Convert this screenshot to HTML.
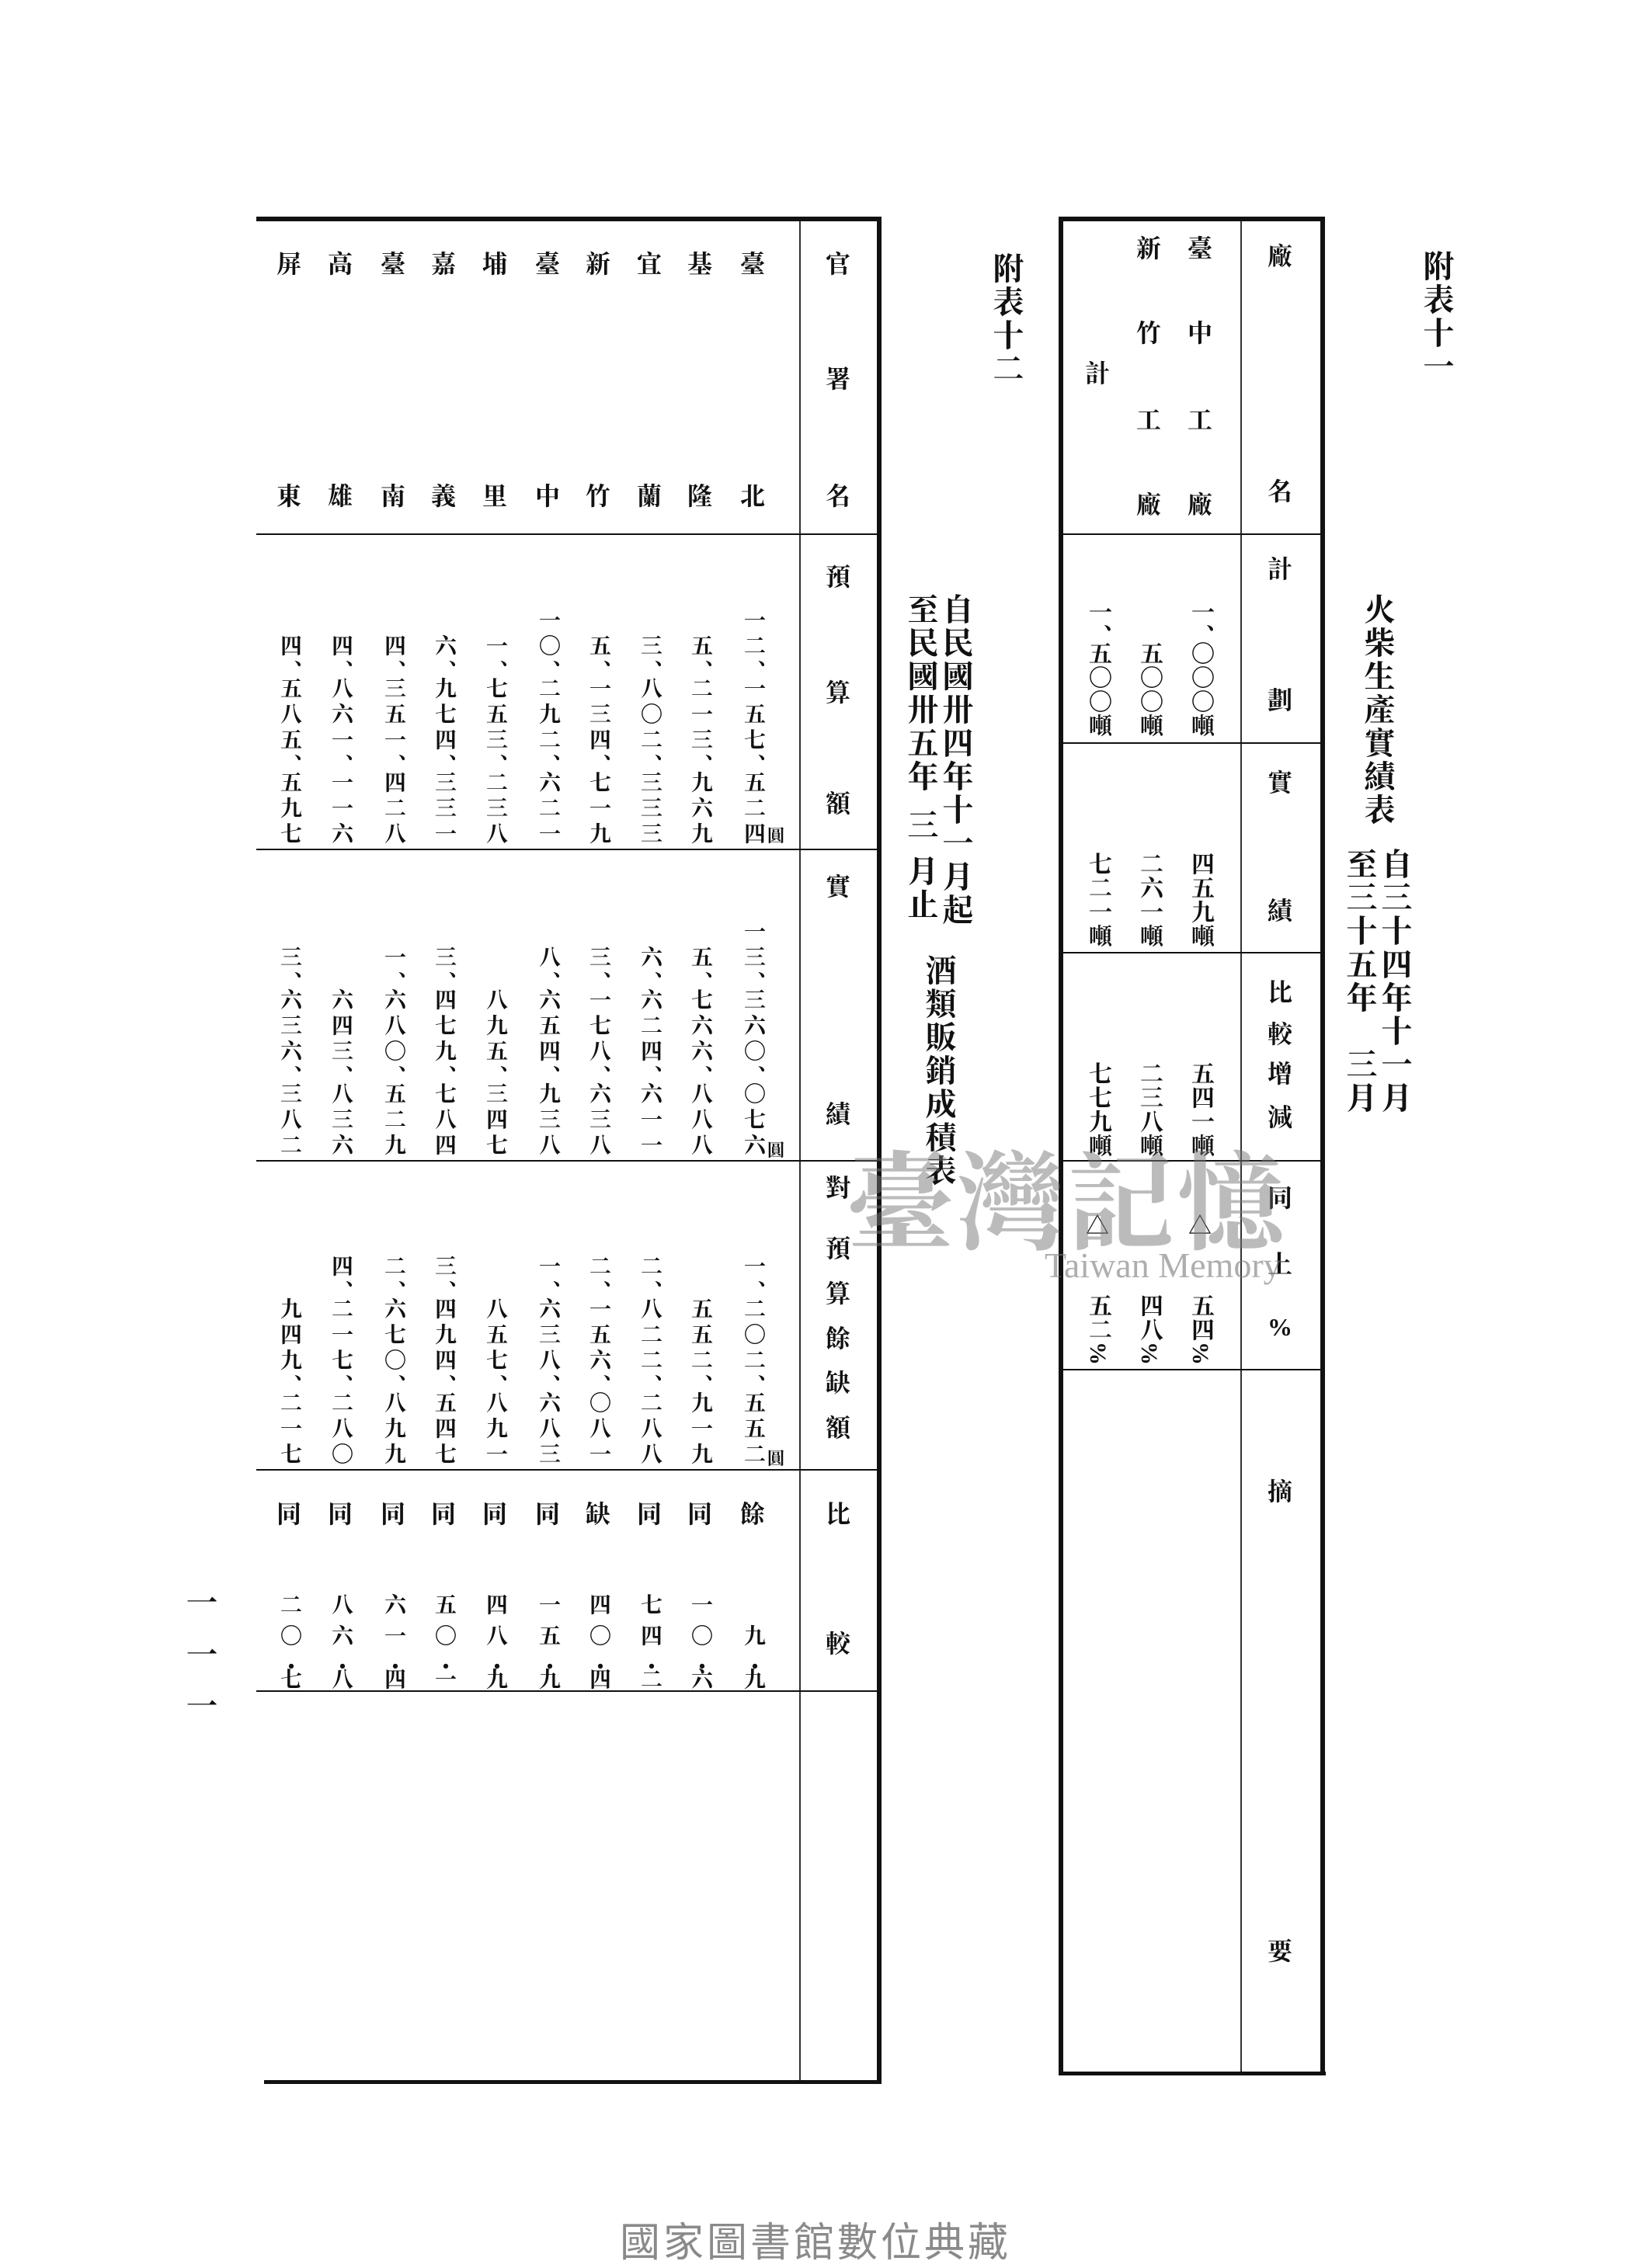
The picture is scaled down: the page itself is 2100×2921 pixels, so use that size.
<!DOCTYPE html>
<html><head><meta charset="utf-8">
<style>
html,body{margin:0;padding:0;background:#fff;}
body{width:2100px;height:2900px;position:relative;overflow:hidden;font-family:"Liberation Serif","Noto Serif CJK SC","Noto Sans CJK TC",serif;color:#111;}
.l{position:absolute;background:#111;}
.v{position:absolute;writing-mode:vertical-rl;font-weight:700;white-space:nowrap;}
.c{position:absolute;font-weight:700;width:40px;text-align:center;line-height:1;}
.n{font-size:28px;letter-spacing:5px;width:34px;line-height:34px;}
.n .k{letter-spacing:-6px;}
.h{font-size:32px;width:40px;text-align:center;}
.r{font-size:30px;letter-spacing:1px;width:34px;line-height:34px;}
.p{font-size:28px;letter-spacing:12px;width:34px;line-height:34px;}
.p .d{letter-spacing:-12px;}
.t{font-size:40px;letter-spacing:3px;width:46px;line-height:46px;}
.yen{position:absolute;font-size:22px;font-weight:700;}
</style></head><body>

<!-- ===== Right table (附表十一) ===== -->
<div class="l" style="left:1363px;top:279px;width:340px;height:6px;"></div>
<div class="l" style="left:1363px;top:279px;width:6px;height:2394px;"></div>
<div class="l" style="left:1700px;top:279px;width:6px;height:2394px;"></div>
<div class="l" style="left:1367px;top:2668px;width:340px;height:5px;"></div>
<div class="l" style="left:1597px;top:285px;width:2px;height:2383px;background:#333;"></div>
<div class="l" style="left:1369px;top:687px;width:331px;height:2px;"></div>
<div class="l" style="left:1369px;top:956px;width:331px;height:2px;"></div>
<div class="l" style="left:1369px;top:1226px;width:331px;height:2px;"></div>
<div class="l" style="left:1369px;top:1494px;width:331px;height:2px;"></div>
<div class="l" style="left:1369px;top:1763px;width:331px;height:2px;"></div>

<!-- header column -->
<div class="c h" style="left:1628px;top:314px;">廠</div>
<div class="c h" style="left:1628px;top:617px;">名</div>
<div class="c h" style="left:1628px;top:717px;">計</div>
<div class="c h" style="left:1628px;top:886px;">劃</div>
<div class="c h" style="left:1628px;top:992px;">實</div>
<div class="c h" style="left:1628px;top:1157px;">績</div>
<div class="c h" style="left:1628px;top:1262px;">比</div>
<div class="c h" style="left:1628px;top:1316px;">較</div>
<div class="c h" style="left:1628px;top:1367px;">增</div>
<div class="c h" style="left:1628px;top:1423px;">減</div>
<div class="c h" style="left:1628px;top:1527px;">同</div>
<div class="c h" style="left:1628px;top:1612px;">上</div>
<div class="c h" style="left:1628px;top:1693px;">%</div>
<div class="c h" style="left:1628px;top:1905px;">摘</div>
<div class="c h" style="left:1628px;top:2497px;">要</div>

<!-- names -->
<div class="c h" style="left:1525px;top:304px;">臺</div>
<div class="c h" style="left:1525px;top:413px;">中</div>
<div class="c h" style="left:1525px;top:525px;">工</div>
<div class="c h" style="left:1525px;top:634px;">廠</div>
<div class="c h" style="left:1459px;top:304px;">新</div>
<div class="c h" style="left:1459px;top:413px;">竹</div>
<div class="c h" style="left:1459px;top:525px;">工</div>
<div class="c h" style="left:1459px;top:634px;">廠</div>
<div class="c h" style="left:1393px;top:465px;">計</div>

<!-- plan -->
<div class="v r" style="left:1528px;bottom:1950px;">一<span style="letter-spacing:-8px">、</span>〇〇〇噸</div>
<div class="v r" style="left:1462px;bottom:1950px;">五〇〇噸</div>
<div class="v r" style="left:1396px;bottom:1950px;">一<span style="letter-spacing:-8px">、</span>五〇〇噸</div>
<!-- actual -->
<div class="v r" style="left:1528px;bottom:1679px;">四五九噸</div>
<div class="v r" style="left:1462px;bottom:1679px;">二六一噸</div>
<div class="v r" style="left:1396px;bottom:1679px;">七二一噸</div>
<!-- diff -->
<div class="v r" style="left:1528px;bottom:1409px;">五四一噸</div>
<div class="v r" style="left:1462px;bottom:1409px;">二三八噸</div>
<div class="v r" style="left:1396px;bottom:1409px;">七七九噸</div>
<!-- % -->
<div class="c" style="left:1525px;top:1565px;font-size:30px;">△</div>
<div class="c" style="left:1393px;top:1565px;font-size:30px;">△</div>
<div class="v r" style="left:1528px;bottom:1141px;">五四%</div>
<div class="v r" style="left:1462px;bottom:1141px;">四八%</div>
<div class="v r" style="left:1396px;bottom:1141px;">五二%</div>

<!-- titles right -->
<div class="v t" style="left:1826px;top:322px;">附表十一</div>
<div class="v t" style="left:1750px;top:764px;">火柴生產實績表</div>
<div class="v t" style="left:1772px;top:1092px;">自三十四年十一月</div>
<div class="v t" style="left:1727px;top:1092px;">至三十五年<span style="display:inline-block;height:43px;"></span>三月</div>

<!-- ===== Left table (附表十二) ===== -->
<div class="l" style="left:330px;top:279px;width:805px;height:6px;"></div>
<div class="l" style="left:1129px;top:279px;width:6px;height:2404px;"></div>
<div class="l" style="left:340px;top:2679px;width:795px;height:5px;"></div>
<div class="l" style="left:1029px;top:285px;width:2px;height:2394px;background:#333;"></div>
<div class="l" style="left:330px;top:687px;width:799px;height:2px;"></div>
<div class="l" style="left:330px;top:1093px;width:799px;height:2px;"></div>
<div class="l" style="left:330px;top:1494px;width:799px;height:2px;"></div>
<div class="l" style="left:330px;top:1892px;width:799px;height:2px;"></div>
<div class="l" style="left:330px;top:2177px;width:799px;height:2px;"></div>

<!-- header -->
<div class="c h" style="left:1059px;top:324px;">官</div>
<div class="c h" style="left:1059px;top:472px;">署</div>
<div class="c h" style="left:1059px;top:623px;">名</div>
<div class="c h" style="left:1059px;top:727px;">預</div>
<div class="c h" style="left:1059px;top:876px;">算</div>
<div class="c h" style="left:1059px;top:1019px;">額</div>
<div class="c h" style="left:1059px;top:1126px;">實</div>
<div class="c h" style="left:1059px;top:1419px;">績</div>
<div class="c h" style="left:1059px;top:1514px;">對</div>
<div class="c h" style="left:1059px;top:1592px;">預</div>
<div class="c h" style="left:1059px;top:1650px;">算</div>
<div class="c h" style="left:1059px;top:1708px;">餘</div>
<div class="c h" style="left:1059px;top:1765px;">缺</div>
<div class="c h" style="left:1059px;top:1823px;">額</div>
<div class="c h" style="left:1059px;top:1934px;">比</div>
<div class="c h" style="left:1059px;top:2101px;">較</div>

<!-- names -->
<div class="c h" style="left:949px;top:324px;">臺</div><div class="c h" style="left:949px;top:623px;">北</div>
<div class="c h" style="left:881px;top:324px;">基</div><div class="c h" style="left:881px;top:623px;">隆</div>
<div class="c h" style="left:816px;top:324px;">宜</div><div class="c h" style="left:816px;top:623px;">蘭</div>
<div class="c h" style="left:750px;top:324px;">新</div><div class="c h" style="left:750px;top:623px;">竹</div>
<div class="c h" style="left:685px;top:324px;">臺</div><div class="c h" style="left:685px;top:623px;">中</div>
<div class="c h" style="left:617px;top:324px;">埔</div><div class="c h" style="left:617px;top:623px;">里</div>
<div class="c h" style="left:551px;top:324px;">嘉</div><div class="c h" style="left:551px;top:623px;">義</div>
<div class="c h" style="left:486px;top:324px;">臺</div><div class="c h" style="left:486px;top:623px;">南</div>
<div class="c h" style="left:418px;top:324px;">高</div><div class="c h" style="left:418px;top:623px;">雄</div>
<div class="c h" style="left:352px;top:324px;">屏</div><div class="c h" style="left:352px;top:623px;">東</div>

<!-- budget -->
<div class="v n" style="left:952px;bottom:1808px;">一二<span class="k">、</span>一五七<span class="k">、</span>五二四</div>
<div class="v n" style="left:884px;bottom:1808px;">五<span class="k">、</span>二一三<span class="k">、</span>九六九</div>
<div class="v n" style="left:819px;bottom:1808px;">三<span class="k">、</span>八〇二<span class="k">、</span>三三三</div>
<div class="v n" style="left:753px;bottom:1808px;">五<span class="k">、</span>一三四<span class="k">、</span>七一九</div>
<div class="v n" style="left:688px;bottom:1808px;">一〇<span class="k">、</span>二九二<span class="k">、</span>六二一</div>
<div class="v n" style="left:620px;bottom:1808px;">一<span class="k">、</span>七五三<span class="k">、</span>二三八</div>
<div class="v n" style="left:554px;bottom:1808px;">六<span class="k">、</span>九七四<span class="k">、</span>三三一</div>
<div class="v n" style="left:489px;bottom:1808px;">四<span class="k">、</span>三五一<span class="k">、</span>四二八</div>
<div class="v n" style="left:421px;bottom:1808px;">四<span class="k">、</span>八六一<span class="k">、</span>一一六</div>
<div class="v n" style="left:355px;bottom:1808px;">四<span class="k">、</span>五八五<span class="k">、</span>五九七</div>
<div class="yen" style="left:988px;top:1060px;">圓</div>

<!-- actual -->
<div class="v n" style="left:952px;bottom:1407px;">一三<span class="k">、</span>三六〇<span class="k">、</span>〇七六</div>
<div class="v n" style="left:884px;bottom:1407px;">五<span class="k">、</span>七六六<span class="k">、</span>八八八</div>
<div class="v n" style="left:819px;bottom:1407px;">六<span class="k">、</span>六二四<span class="k">、</span>六一一</div>
<div class="v n" style="left:753px;bottom:1407px;">三<span class="k">、</span>一七八<span class="k">、</span>六三八</div>
<div class="v n" style="left:688px;bottom:1407px;">八<span class="k">、</span>六五四<span class="k">、</span>九三八</div>
<div class="v n" style="left:620px;bottom:1407px;">八九五<span class="k">、</span>三四七</div>
<div class="v n" style="left:554px;bottom:1407px;">三<span class="k">、</span>四七九<span class="k">、</span>七八四</div>
<div class="v n" style="left:489px;bottom:1407px;">一<span class="k">、</span>六八〇<span class="k">、</span>五二九</div>
<div class="v n" style="left:421px;bottom:1407px;">六四三<span class="k">、</span>八三六</div>
<div class="v n" style="left:355px;bottom:1407px;">三<span class="k">、</span>六三六<span class="k">、</span>三八二</div>
<div class="yen" style="left:988px;top:1465px;">圓</div>

<!-- diff -->
<div class="v n" style="left:952px;bottom:1009px;">一<span class="k">、</span>二〇二<span class="k">、</span>五五二</div>
<div class="v n" style="left:884px;bottom:1009px;">五五二<span class="k">、</span>九一九</div>
<div class="v n" style="left:819px;bottom:1009px;">二<span class="k">、</span>八二二<span class="k">、</span>二八八</div>
<div class="v n" style="left:753px;bottom:1009px;">二<span class="k">、</span>一五六<span class="k">、</span>〇八一</div>
<div class="v n" style="left:688px;bottom:1009px;">一<span class="k">、</span>六三八<span class="k">、</span>六八三</div>
<div class="v n" style="left:620px;bottom:1009px;">八五七<span class="k">、</span>八九一</div>
<div class="v n" style="left:554px;bottom:1009px;">三<span class="k">、</span>四九四<span class="k">、</span>五四七</div>
<div class="v n" style="left:489px;bottom:1009px;">二<span class="k">、</span>六七〇<span class="k">、</span>八九九</div>
<div class="v n" style="left:421px;bottom:1009px;">四<span class="k">、</span>二一七<span class="k">、</span>二八〇</div>
<div class="v n" style="left:355px;bottom:1009px;">九四九<span class="k">、</span>二一七</div>
<div class="yen" style="left:988px;top:1862px;">圓</div>

<!-- compare -->
<div class="c h" style="left:949px;top:1934px;">餘</div>
<div class="c h" style="left:881px;top:1934px;">同</div>
<div class="c h" style="left:816px;top:1934px;">同</div>
<div class="c h" style="left:750px;top:1934px;">缺</div>
<div class="c h" style="left:685px;top:1934px;">同</div>
<div class="c h" style="left:617px;top:1934px;">同</div>
<div class="c h" style="left:551px;top:1934px;">同</div>
<div class="c h" style="left:486px;top:1934px;">同</div>
<div class="c h" style="left:418px;top:1934px;">同</div>
<div class="c h" style="left:352px;top:1934px;">同</div>
<div class="v p" style="left:952px;bottom:712px;">九<span class="d">・</span>九</div>
<div class="v p" style="left:884px;bottom:712px;">一〇<span class="d">・</span>六</div>
<div class="v p" style="left:819px;bottom:712px;">七四<span class="d">・</span>二</div>
<div class="v p" style="left:753px;bottom:712px;">四〇<span class="d">・</span>四</div>
<div class="v p" style="left:688px;bottom:712px;">一五<span class="d">・</span>九</div>
<div class="v p" style="left:620px;bottom:712px;">四八<span class="d">・</span>九</div>
<div class="v p" style="left:554px;bottom:712px;">五〇<span class="d">・</span>一</div>
<div class="v p" style="left:489px;bottom:712px;">六一<span class="d">・</span>四</div>
<div class="v p" style="left:421px;bottom:712px;">八六<span class="d">・</span>八</div>
<div class="v p" style="left:355px;bottom:712px;">二〇<span class="d">・</span>七</div>

<!-- titles left -->
<div class="v t" style="left:1272px;top:325px;">附表十二</div>
<div class="v t" style="left:1207px;top:764px;">自民國卅四年十一月起</div>
<div class="v t" style="left:1162px;top:764px;">至民國卅五年<span style="display:inline-block;height:20px;"></span>三<span style="display:inline-block;height:16px;"></span>月止</div>
<div class="v t" style="left:1185px;top:1229px;">酒類販銷成積表</div>

<!-- page number -->
<div class="c" style="left:240px;top:2045px;font-size:40px;">一</div>
<div class="c" style="left:240px;top:2112px;font-size:40px;">一</div>
<div class="c" style="left:240px;top:2178px;font-size:40px;">一</div>

<!-- watermark -->
<div style="position:absolute;left:1090px;top:1440px;font-size:138px;color:rgba(120,120,120,0.5);font-family:'Noto Serif CJK SC',serif;font-weight:700;letter-spacing:4px;white-space:nowrap;">臺灣記憶</div>
<div style="position:absolute;left:1345px;top:1603px;font-size:46px;color:rgba(120,120,120,0.6);font-family:'Liberation Serif',serif;white-space:nowrap;">Taiwan Memory</div>

<!-- footer -->
<div style="position:absolute;left:798px;top:2846px;font-size:52px;color:#8a8a8a;font-family:'Liberation Sans','Noto Sans CJK TC',sans-serif;letter-spacing:4px;white-space:nowrap;">國家圖書館數位典藏</div>
</body></html>
